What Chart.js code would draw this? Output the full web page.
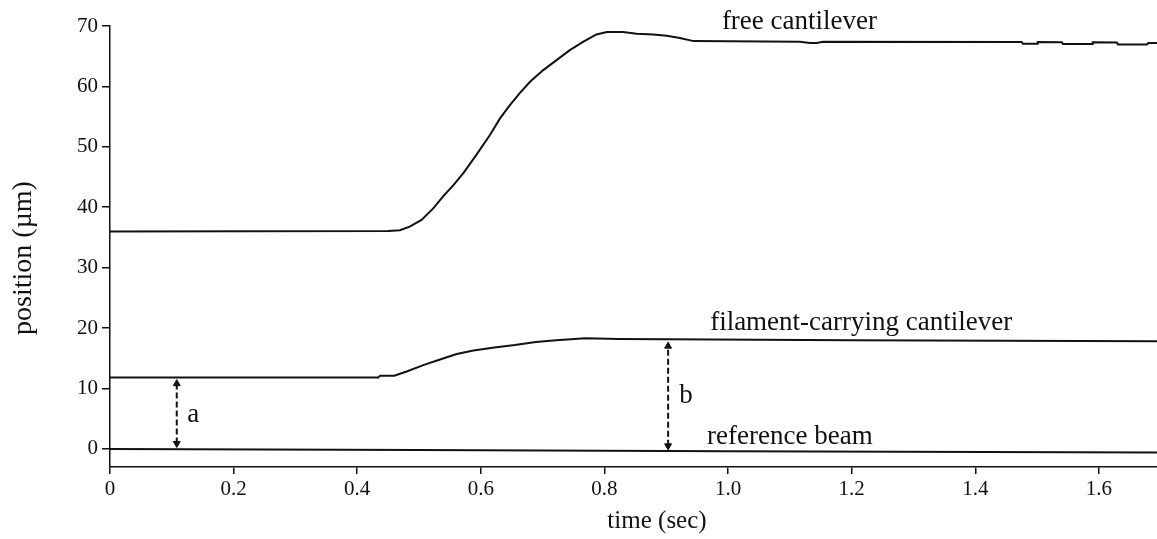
<!DOCTYPE html>
<html>
<head>
<meta charset="utf-8">
<script src="https://cdn.jsdelivr.net/npm/chart.js@4.4.1/dist/chart.umd.min.js"></script>
<style>
  html, body { margin: 0; padding: 0; background: #ffffff; }
  #wrap { width: 1157px; height: 539px; }
</style>
</head>
<body>
<div id="wrap"><canvas id="c" width="1157" height="539"></canvas></div>
<script>
// ---- data ----
const xTicks = [0, 0.2, 0.4, 0.6, 0.8, 1.0, 1.2, 1.4, 1.6];
const xTickLabels = ['0', '0.2', '0.4', '0.6', '0.8', '1.0', '1.2', '1.4', '1.6'];
const yTicks = [0, 10, 20, 30, 40, 50, 60, 70];
const yTickLabels = ['0', '10', '20', '30', '40', '50', '60', '70'];

const freeT = [0, 0.450, 0.469, 0.485, 0.504, 0.523, 0.539, 0.556, 0.572, 0.593, 0.615, 0.631, 0.647, 0.663, 0.680, 0.701, 0.723, 0.744, 0.766, 0.787, 0.804, 0.830, 0.852, 0.879, 0.901, 0.922, 0.944, 1.116, 1.133, 1.143, 1.154, 1.475, 1.477, 1.500, 1.501, 1.540, 1.542, 1.589, 1.590, 1.629, 1.631, 1.678, 1.680, 1.694];
const freeV = [36.0, 36.05, 36.2, 36.8, 37.9, 39.8, 41.8, 43.7, 45.7, 48.7, 52.0, 54.7, 56.9, 58.9, 60.8, 62.7, 64.4, 66.0, 67.4, 68.6, 69.0, 69.0, 68.7, 68.6, 68.4, 68.0, 67.5, 67.4, 67.2, 67.2, 67.4, 67.35, 67.05, 67.05, 67.35, 67.3, 67.0, 67.0, 67.3, 67.25, 66.95, 66.95, 67.2, 67.2];

const filT = [0, 0.434, 0.437, 0.460, 0.480, 0.508, 0.534, 0.561, 0.588, 0.622, 0.655, 0.689, 0.722, 0.769, 0.823, 1.2, 1.694];
const filV = [11.8, 11.8, 12.1, 12.1, 12.8, 13.9, 14.8, 15.7, 16.3, 16.8, 17.2, 17.7, 18.0, 18.3, 18.2, 18.0, 17.8];

const refT = [0, 0.5, 1.0, 1.694];
const refV = [0, -0.2, -0.4, -0.6];

// double-headed dashed arrows: time, [bottom end, top end]
const arrowAT = 0.108;
const arrowAV = [0.9, 10.8];
const arrowBT = 0.903;
const arrowBV = [0.5, 17.0];

// text annotations (data coordinates)
const noteText = ['free cantilever', 'filament-carrying cantilever', 'reference beam', 'a', 'b'];
const noteT = [0.990, 0.971, 0.966, 0.125, 0.921];
const noteV = [69.5, 19.7, 0.8, 4.5, 7.6];

const xTitle = 'time (sec)';
const yTitle = 'position (µm)';

// ---- helpers ----
const pts = (t, v) => t.map((x, i) => ({ x: x, y: v[i] }));
const FONT = "'Liberation Serif', 'Times New Roman', serif";

const lineDs = (t, v) => ({
  data: pts(t, v),
  borderColor: '#111',
  borderWidth: 2,
  pointRadius: 0,
  tension: 0,
  fill: false
});
const arrowDs = (t, v) => ({
  data: [{ x: t, y: v[0] }, { x: t, y: v[1] }],
  borderColor: '#111',
  backgroundColor: '#111',
  borderWidth: 2,
  borderDash: [6, 3],
  pointStyle: 'triangle',
  pointRadius: 4,
  pointRotation: [180, 0],
  pointBorderWidth: 1,
  tension: 0,
  fill: false
});

const textPlugin = {
  id: 'texts',
  afterDraw(chart) {
    const ctx = chart.ctx;
    const xs = chart.scales.x, ys = chart.scales.y;
    ctx.save();
    ctx.fillStyle = '#111';
    ctx.textBaseline = 'alphabetic';
    ctx.textAlign = 'left';
    ctx.font = '27px ' + FONT;
    noteText.forEach((s, i) => {
      ctx.fillText(s, xs.getPixelForValue(noteT[i]), ys.getPixelForValue(noteV[i]));
    });
    // axis titles
    ctx.textAlign = 'center';
    ctx.textBaseline = 'middle';
    ctx.font = '25px ' + FONT;
    ctx.fillText(xTitle, 657, 521);
    ctx.font = '28px ' + FONT;
    ctx.translate(24, 258);
    ctx.rotate(-Math.PI / 2);
    ctx.fillText(yTitle, 0, 0);
    ctx.restore();
  }
};

new Chart(document.getElementById('c'), {
  type: 'line',
  data: {
    datasets: [
      lineDs(freeT, freeV),
      lineDs(filT, filV),
      lineDs(refT, refV),
      arrowDs(arrowAT, arrowAV),
      arrowDs(arrowBT, arrowBV)
    ]
  },
  options: {
    responsive: false,
    animation: false,
    devicePixelRatio: 1,
    layout: { autoPadding: false, padding: { top: 26, right: 0, left: 0, bottom: 0 } },
    plugins: { legend: { display: false }, tooltip: { enabled: false }, title: { display: false } },
    scales: {
      x: {
        type: 'linear',
        min: 0,
        max: 1.694,
        afterBuildTicks: (s) => { s.ticks = xTicks.map(v => ({ value: v })); },
        afterFit: (s) => { s.height = 72; },
        ticks: {
          includeBounds: false,
          autoSkip: false,
          maxRotation: 0,
          color: '#111',
          padding: 3,
          font: { family: FONT, size: 21 },
          callback: (v) => { const i = xTicks.indexOf(v); return i >= 0 ? xTickLabels[i] : ''; }
        },
        grid: { display: true, drawOnChartArea: false, drawTicks: true, tickLength: 7, color: '#111', lineWidth: 1.5 },
        border: { display: true, color: '#111', width: 1.5 }
      },
      y: {
        type: 'linear',
        min: -3,
        max: 70,
        afterBuildTicks: (s) => { s.ticks = yTicks.map(v => ({ value: v })); },
        afterFit: (s) => { s.width = 110; },
        ticks: {
          includeBounds: false,
          autoSkip: false,
          color: '#111',
          padding: 4,
          font: { family: FONT, size: 21 },
          callback: (v) => { const i = yTicks.indexOf(v); return i >= 0 ? yTickLabels[i] : ''; }
        },
        grid: { display: true, drawOnChartArea: false, drawTicks: true, tickLength: 8, color: '#111', lineWidth: 1.5 },
        border: { display: true, color: '#111', width: 1.5 }
      }
    }
  },
  plugins: [textPlugin]
});
</script>
</body>
</html>
